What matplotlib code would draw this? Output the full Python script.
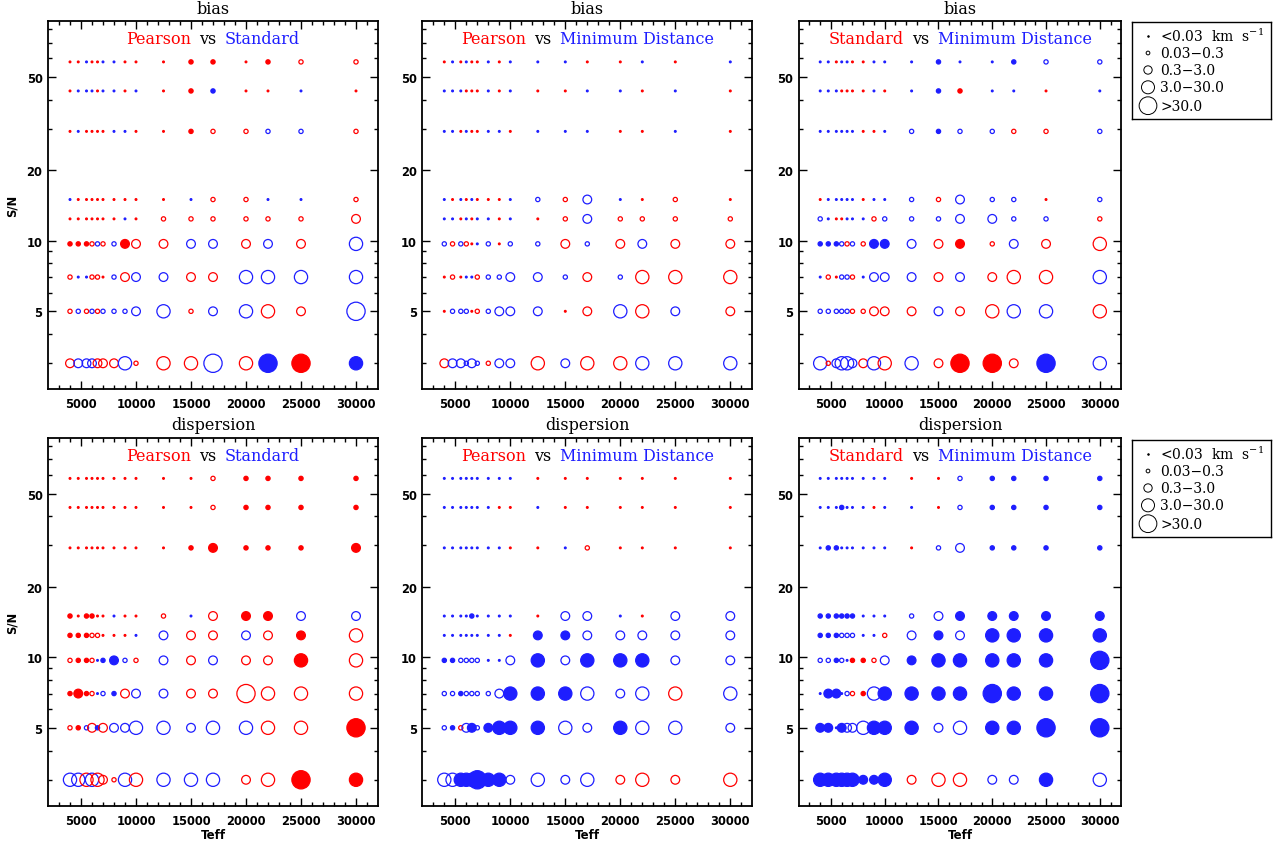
import matplotlib
matplotlib.use("Agg")
import matplotlib.pyplot as plt
from matplotlib.offsetbox import TextArea, HPacker, AnchoredOffsetbox
from matplotlib.ticker import FixedLocator, NullFormatter, FuncFormatter

plt.rcParams['mathtext.fontset'] = 'dejavuserif'

# Teff grid (columns) and S/N grid (rows, top -> bottom)
teff = [4000, 4750, 5500, 6000, 6500, 7000, 8000, 9000, 10000,
        12500, 15000, 17000, 20000, 22000, 25000, 30000]
snr = [58, 43.6, 29.3, 15, 12.4, 9.7, 7, 5, 3]

size_labels = ['<0.03  km  s$^{-1}$', '0.03\u22120.3', '0.3\u22123.0',
               '3.0\u221230.0', '>30.0']

# token = colour (r/b, upper case = filled) + size class 0..4
bias_pea_std = [
    "R0 R0 B0 R0 R0 B0 B0 R0 R0 R0 R1 R1 R0 R1 r1 r1",
    "R0 B0 B0 B0 R0 B0 B0 R0 B0 R0 R1 B1 R0 R0 B0 R0",
    "R0 B0 R0 R0 R0 R0 B0 B0 R0 R0 R1 r1 r1 b1 b1 r1",
    "B0 R0 R0 R0 R0 R0 R0 R0 R0 R0 B0 r1 r1 B0 B0 r1",
    "R0 R0 R0 R0 R0 R0 R0 B0 R0 r1 r1 r1 r1 r1 r1 r2",
    "R1 R1 R1 r1 b1 r1 b1 R2 r2 r2 b2 b2 r2 b2 r2 b3",
    "r1 B0 B0 r1 r1 R0 b1 r2 b2 b2 r2 r2 b3 b3 b3 b3",
    "r1 b1 r1 b1 r1 b1 b1 b1 b2 b3 r1 b2 b3 r3 r2 b4",
    "r2 b2 b2 b2 r2 r2 r2 b3 r1 r3 r3 b4 r3 B4 R4 B3",
]
bias_pea_min = [
    "R0 B0 R0 B0 R0 R0 B0 R0 B0 B0 B0 R0 R0 B0 R0 B0",
    "B0 B0 B0 R0 R0 R0 B0 R0 B0 R0 R0 B0 B0 R0 B0 R0",
    "B0 B0 R0 B0 R0 R0 B0 B0 R0 B0 B0 B0 R0 R0 B0 R0",
    "B0 R0 B0 R0 B0 R0 R0 R0 B0 b1 r1 b2 B0 R0 r1 R0",
    "B0 B0 R0 B0 R0 B0 B0 R0 B0 R0 r1 b2 r1 r1 r1 r1",
    "b1 r1 b1 r1 R0 B0 b1 R0 b1 b1 r2 b1 r2 b2 r2 r2",
    "R0 r1 R0 B0 B0 r1 b1 b1 b2 b2 b1 r2 b1 r3 r3 r3",
    "R0 b1 b1 b1 R0 r1 b1 b2 b2 b2 R0 r2 b3 r3 b2 r2",
    "r2 b2 b2 b1 b2 b1 r1 b2 b2 r3 b2 r3 r3 b3 b3 b3",
]
bias_std_min = [
    "B0 B0 R0 B0 B0 R0 R0 B0 B0 B0 B1 B0 B0 B1 b1 b1",
    "B0 B0 B0 R0 R0 R0 R0 B0 R0 B0 B1 R1 B0 B0 R0 B0",
    "B0 B0 B0 B0 B0 B0 R0 R0 B0 b1 B1 b1 b1 r1 r1 b1",
    "R0 B0 B0 B0 B0 B0 R0 B0 B0 b1 r1 b2 b1 b1 R0 b1",
    "b1 B0 R0 R0 B0 B0 B0 r1 b1 b1 b1 b2 b2 b1 b1 r1",
    "B1 B1 B1 b1 r1 b1 r1 B2 B2 b2 r2 R2 r1 b2 r2 r3",
    "B0 r1 R0 b1 b1 r1 B0 b2 b2 b2 r2 b2 r2 r3 r3 b3",
    "b1 b1 b1 b1 b1 r1 r1 r2 r2 r2 b2 r2 r3 b3 b3 r3",
    "b3 r1 b2 b3 b3 b2 r2 b3 r3 b3 r2 R4 R4 r2 B4 b3",
]
disp_pea_std = [
    "R0 R0 R0 R0 R0 R0 R0 R0 R0 R0 R0 r1 R1 R1 R1 R1",
    "R0 R0 R0 R0 R0 R0 R0 R0 R0 R0 R0 r1 R1 R1 R1 R1",
    "R0 R0 R0 R0 R0 R0 R0 R0 R0 R0 R1 R2 R1 R1 R1 R2",
    "R1 R0 R1 R1 R0 R0 B0 R0 R0 r1 B0 r2 R2 R2 b2 b2",
    "R1 R1 R1 r1 r1 R0 R0 R0 B0 b2 r2 r2 b2 r2 R2 r3",
    "r1 R1 R1 r1 B0 B1 B2 b1 r1 b2 r2 b2 r2 r2 R3 r3",
    "R1 R2 R1 r1 B0 b1 B1 r2 b2 b2 r2 r2 r4 r3 r3 r3",
    "r1 R1 b1 r2 B1 r2 b2 b2 b3 b3 b2 b3 b3 r3 r3 R4",
    "b3 b3 r3 b3 r3 r2 r1 b3 r3 b3 b3 b3 r2 r3 R4 R3",
]
disp_pea_min = [
    "B0 B0 B0 B0 B0 B0 B0 B0 B0 R0 R0 R0 R0 R0 R0 R0",
    "B0 B0 B0 B0 B0 B0 B0 R0 R0 B0 R0 R0 R0 R0 R0 R0",
    "B0 B0 B0 B0 B0 B0 B0 B0 R0 R0 B0 r1 R0 R0 R0 R0",
    "B0 B0 B0 B0 B1 B0 B0 B0 B0 R0 b2 b2 B0 R0 b2 b2",
    "B0 B0 B0 B0 B0 B0 B0 B0 R0 B2 B2 b2 b2 b2 b2 b2",
    "B1 B1 b1 b1 b1 b1 B0 B0 b2 B3 b2 B3 B3 B3 b2 b2",
    "b1 b1 B1 b1 b1 b1 b1 b2 B3 B3 B3 b3 b2 b3 r3 b3",
    "b1 B1 r1 b2 B2 b1 B2 B3 B3 B3 b3 b2 B3 b3 b3 b2",
    "b3 b3 B3 B3 B3 B4 B3 B3 b2 b3 b2 b3 r2 r3 r2 r3",
]
disp_std_min = [
    "B0 B0 B0 B0 B0 B0 B0 B0 B0 R0 R0 b1 B1 B1 B1 B1",
    "B0 B0 B0 B1 B0 B0 B0 R0 B0 B0 R0 b1 B1 B1 B1 B1",
    "B0 B1 B1 B0 B0 B0 B0 B0 B0 R0 b1 b2 B1 B1 B1 B1",
    "B1 B1 B1 B1 B1 B1 B0 B0 B0 b1 b2 B2 B2 B2 B2 B2",
    "B1 B1 B1 b1 b1 b1 B0 B0 r1 b2 B2 b2 B3 B3 B3 B3",
    "b1 b1 B1 b1 B0 R1 R1 r1 b2 B2 B3 B3 B3 B3 B3 B4",
    "B0 B2 B2 B0 b1 r1 R1 b3 B3 B3 B3 B3 B4 B3 B3 B4",
    "B2 B2 B0 B2 b2 b2 b3 B3 B3 B3 b2 b3 B3 B3 B4 B4",
    "B3 B3 B3 B3 B3 B3 B2 B2 B3 r2 r3 r3 b2 b2 B3 b3",
]

panels = [
    ('bias', 'Pearson', 'Standard', bias_pea_std),
    ('bias', 'Pearson', 'Minimum Distance', bias_pea_min),
    ('bias', 'Standard', 'Minimum Distance', bias_std_min),
    ('dispersion', 'Pearson', 'Standard', disp_pea_std),
    ('dispersion', 'Pearson', 'Minimum Distance', disp_pea_min),
    ('dispersion', 'Standard', 'Minimum Distance', disp_std_min),
]

RED = '#ff0000'
BLUE = '#1e1eff'
W, H = 1280, 845
diam = [3, 5.5, 10, 14.5, 19.5]      # marker diameters in pixels
LW = 0.9


def msize(d):
    return (d * 0.72 - LW) ** 2


def box(l, t, w, h):
    return [l / W, 1 - (t + h) / H, w / W, h / H]


fig = plt.figure(figsize=(12.8, 8.45), dpi=100)

lefts = [48, 422.3, 798.7]
widths = [330, 330, 322.6]
tops = [22, 438.5]
ph = 368

for i, (title, name1, name2, grid) in enumerate(panels):
    row, col = divmod(i, 3)
    ax = fig.add_axes(box(lefts[col], tops[row], widths[col], ph))

    xs, ys, ss, fcs, ecs = [], [], [], [], []
    for j, line in enumerate(grid):
        for k, tok in enumerate(line.split()):
            color = RED if tok[0].lower() == 'r' else BLUE
            cls = int(tok[1])
            filled = tok[0].isupper() or cls == 0
            xs.append(teff[k])
            ys.append(snr[j])
            ss.append(msize(diam[cls]))
            ecs.append(color)
            fcs.append(color if filled else 'none')
    ax.scatter(xs, ys, s=ss, facecolors=fcs, edgecolors=ecs, linewidths=LW,
               zorder=3)

    ax.set_yscale('log')
    ax.set_xlim(2000, 32000)
    ax.set_ylim(2.33, 86.7)
    ax.xaxis.set_major_locator(FixedLocator([5000, 10000, 15000, 20000, 25000, 30000]))
    ax.xaxis.set_minor_locator(FixedLocator(range(3000, 32000, 1000)))
    ax.yaxis.set_major_locator(FixedLocator([5, 10, 20, 50]))
    ax.yaxis.set_major_formatter(FuncFormatter(lambda v, p: f'{v:g}'))
    ax.yaxis.set_minor_locator(FixedLocator([3, 4, 6, 7, 8, 9, 30, 40, 60, 70, 80]))
    ax.yaxis.set_minor_formatter(NullFormatter())
    ax.tick_params(which='both', direction='in', top=True, right=True,
                   width=1.0, colors='black')
    ax.tick_params(which='major', length=6)
    ax.tick_params(which='minor', length=3)
    ax.tick_params(axis='x', which='major', pad=6)
    ax.tick_params(axis='y', which='major', pad=4)
    for lab in ax.get_xticklabels() + ax.get_yticklabels():
        lab.set_fontfamily('DejaVu Sans')
        lab.set_fontweight('bold')
        lab.set_fontsize(8.3)
    for sp in ax.spines.values():
        sp.set_linewidth(1.3)

    ax.text(0.5, 1 + 13 / ph, title, transform=ax.transAxes, ha='center',
            va='center', fontsize=11.5, family='DejaVu Serif')

    tp = dict(fontsize=11.5, family='DejaVu Serif')
    pack = HPacker(children=[TextArea(name1, textprops=dict(color=RED, **tp)),
                             TextArea('vs', textprops=dict(color='black', **tp)),
                             TextArea(name2, textprops=dict(color=BLUE, **tp))],
                   sep=6, pad=0, align='baseline')
    anch = AnchoredOffsetbox(loc='center', child=pack, frameon=False, pad=0,
                             borderpad=0, bbox_to_anchor=(0.5, 1 - 18 / ph),
                             bbox_transform=ax.transAxes)
    ax.add_artist(anch)

    if col == 0:
        fig.text(12 / W, 1 - (tops[row] + ph / 2) / H, 'S/N', rotation=90,
                 ha='center', va='center', fontsize=8.3, fontweight='bold')
    if row == 1:
        cx = lefts[col] + widths[col] / 2
        fig.text(cx / W, 1 - 836 / H, 'Teff', ha='center', va='center',
                 fontsize=8.5, fontweight='bold')

# size legends (one per row)
leg_diam = [2.5, 4.7, 9.3, 14, 18.7]
leg_off = [13.7, 31, 48, 65.3, 83.7]
for t in [23, 441]:
    lax = fig.add_axes(box(1132, t, 139, 97))
    lax.set_xlim(0, 1)
    lax.set_ylim(0, 1)
    lax.set_xticks([])
    lax.set_yticks([])
    for sp in lax.spines.values():
        sp.set_linewidth(1.0)
    for n, lbl in enumerate(size_labels):
        yy = 1 - leg_off[n] / 97
        lax.scatter([16 / 139], [yy], s=(leg_diam[n] * 0.72 - 0.7) ** 2,
                    facecolors='black' if n == 0 else 'none',
                    edgecolors='black', linewidths=0.7, clip_on=False)
        lax.text(28 / 139, yy, lbl, ha='left', va='center', fontsize=10,
                 family='DejaVu Serif')

fig.savefig('out.png', dpi=100)
